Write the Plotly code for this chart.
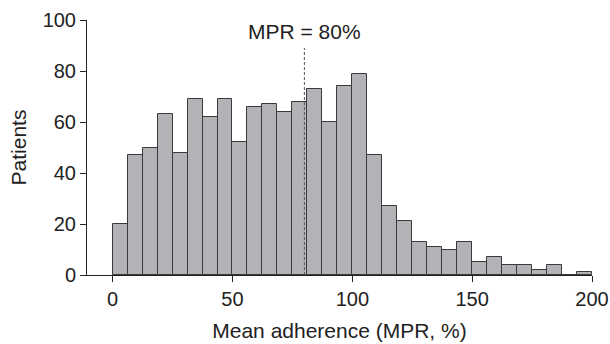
import plotly.graph_objects as go

# Histogram of mean adherence (MPR, %), bins of 6.25 from 0 to 200
bin_width = 6.25
bin_starts = [i * 6.25 for i in range(32)]
counts = [20, 47, 50, 63, 48, 69, 62, 69, 52, 66, 67, 64, 68, 73, 60, 74,
          79, 47, 27, 21, 13, 11, 10, 13, 5, 7, 4, 4, 2, 4, 0, 1]
x_ticks = [0, 50, 100, 150, 200]
y_ticks = [0, 20, 40, 60, 80, 100]
mpr_threshold = 80

centers = [s + bin_width / 2 for s in bin_starts]

FONT = "Liberation Sans, Arial, sans-serif"
fig = go.Figure()
fig.add_trace(go.Bar(
    x=centers, y=counts, width=bin_width,
    marker=dict(color="#b2b3b6", line=dict(color="#3a3a3a", width=1)),
    showlegend=False,
))

fig.add_shape(type="line", xref="x", yref="y",
              x0=mpr_threshold, x1=mpr_threshold, y0=0, y1=89,
              line=dict(color="#555555", width=1, dash="3px,2px"))
fig.add_annotation(x=mpr_threshold, y=95.4, xref="x", yref="y",
                   text="MPR = 80%", showarrow=False,
                   font=dict(family=FONT, size=21, color="#222222"))

fig.update_layout(
    width=610, height=344,
    margin=dict(l=87, r=18, t=20, b=69),
    paper_bgcolor="white", plot_bgcolor="white",
    bargap=0,
    font=dict(family=FONT, size=20, color="#222222"),
    xaxis=dict(range=[-10.7, 200], tickvals=x_ticks, showline=True,
               linecolor="#222222", linewidth=1, ticks="outside", ticklen=6,
               tickcolor="#222222", showgrid=False, zeroline=False,
               automargin=False,
               title=dict(text="Mean adherence (MPR, %)", standoff=14,
                          font=dict(size=21)),
               tickfont=dict(size=20)),
    yaxis=dict(range=[0, 100], tickvals=y_ticks, showline=True,
               linecolor="#222222", linewidth=1, ticks="outside", ticklen=6,
               tickcolor="#222222", showgrid=False, zeroline=False,
               automargin=False,
               title=dict(text="Patients", standoff=10, font=dict(size=21)),
               tickfont=dict(size=20)),
)

fig.write_html("out.html")
